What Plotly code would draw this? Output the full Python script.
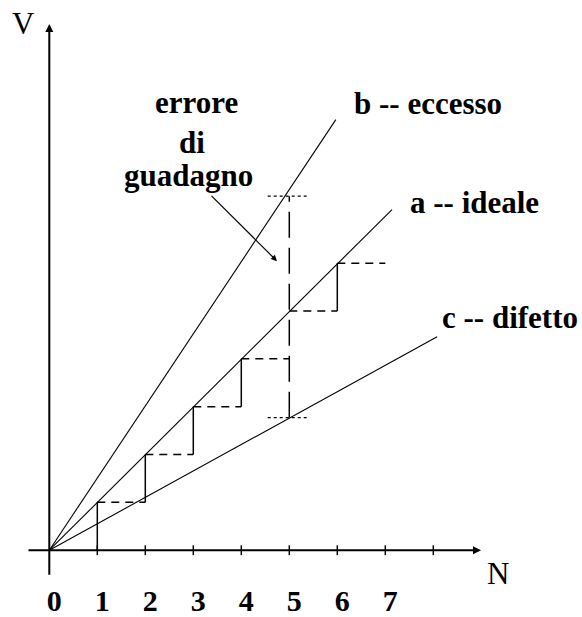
import plotly.graph_objects as go

# ---------------- data ----------------
line_names = ["a -- ideale", "b -- eccesso", "c -- difetto"]
line_end_N = [7.14, 5.97, 8.08]
line_end_V = [7.12, 9.00, 4.46]

step_N = [1, 2, 3, 4, 6]
step_bottom = [0, 1, 2, 3, 5]
step_top = [1, 2, 3, 4, 6]

level_V = [1, 2, 3, 4, 5, 6]
level_start = [1, 2, 3, 4, 5, 6]
level_end = [2, 3, 4, 5, 6, 7]

err_N = 5
err_low = 2.77
err_high = 7.40
err_dot_from = 4.55
err_dot_to = 5.37

tick_N = [1, 2, 3, 4, 5, 6, 7, 8]
tick_labels = ["0", "1", "2", "3", "4", "5", "6", "7"]
tick_vals = [0, 1, 2, 3, 4, 5, 6, 7]

W, H = 582, 617
OX, OY, U = 49.3, 552.0, 48.0


def px(x):
    return (x - OX) / U


def py(y):
    return (OY - y) / U


FONT = "Liberation Serif, Times New Roman, serif"
fig = go.Figure()

# main lines
for ex, ey in zip(line_end_N, line_end_V):
    fig.add_trace(go.Scatter(x=[0, ex], y=[0, ey], mode="lines",
                             line=dict(color="black", width=1.1), hoverinfo="skip"))

# solid staircase verticals
for n, b, t in zip(step_N, step_bottom, step_top):
    fig.add_trace(go.Scatter(x=[n, n], y=[b, t], mode="lines",
                             line=dict(color="black", width=1.5), hoverinfo="skip"))

# dashed staircase horizontals
for v, s, e in zip(level_V, level_start, level_end):
    fig.add_trace(go.Scatter(x=[s, e], y=[v, v], mode="lines",
                             line=dict(color="black", width=1.5, dash="8px,6px"), hoverinfo="skip"))

# gain error long-dash vertical
fig.add_trace(go.Scatter(x=[err_N, err_N], y=[err_low, err_high], mode="lines",
                         line=dict(color="black", width=1.5, dash="26px,10px"), hoverinfo="skip"))
for v in [err_low, err_high]:
    fig.add_trace(go.Scatter(x=[err_dot_from, err_dot_to], y=[v, v], mode="lines",
                             line=dict(color="black", width=1.2, dash="3px,3px"), hoverinfo="skip"))

# tick marks on N axis
fig.add_trace(go.Scatter(x=tick_N, y=[0] * len(tick_N), mode="markers",
                         marker=dict(symbol="line-ns", size=7, line=dict(color="black", width=1.5)),
                         hoverinfo="skip"))

ann = []
# axes with arrows
ann.append(dict(x=px(481), y=0, ax=px(27), ay=0, xref="x", yref="y", axref="x", ayref="y",
                showarrow=True, arrowhead=2, arrowsize=0.8, arrowwidth=2, arrowcolor="black", text=""))
ann.append(dict(x=0, y=py(24), ax=0, ay=py(578), xref="x", yref="y", axref="x", ayref="y",
                showarrow=True, arrowhead=2, arrowsize=0.8, arrowwidth=2, arrowcolor="black", text=""))
# pointer arrow
ann.append(dict(x=px(277), y=py(262), ax=px(210), ay=py(195), xref="x", yref="y", axref="x", ayref="y",
                showarrow=True, arrowhead=2, arrowsize=1, arrowwidth=1.2, arrowcolor="black", text=""))

labels = [
    ("b -- eccesso", 428, 104, True),
    ("a -- ideale", 474, 203, True),
    ("c -- difetto", 510, 319, True),
    ("errore", 196, 103, True),
    ("di", 192, 143, True),
    ("guadagno", 188, 176, True),
    ("V", 23, 24, False),
    ("N", 498, 575, False),
]
for t, x, y, bold in labels:
    ann.append(dict(x=px(x), y=py(y), xref="x", yref="y", text=("<b>%s</b>" % t) if bold else t,
                    showarrow=False, xanchor="center", yanchor="middle",
                    font=dict(family=FONT, size=31, color="black")))

fig.update_layout(
    width=W, height=H, autosize=False,
    margin=dict(l=0, r=0, t=0, b=0),
    paper_bgcolor="white", plot_bgcolor="white",
    showlegend=False,
    annotations=ann,
    xaxis=dict(range=[px(0), px(W)], showgrid=False, zeroline=False, showline=False,
               tickmode="array", tickvals=tick_vals, ticktext=["<b>%s</b>" % s for s in tick_labels],
               ticks="", anchor="free", position=(H - OY) / H,
               ticklabelstandoff=30, ticklabelshift=5,
               tickfont=dict(family=FONT, size=30, color="black"), fixedrange=True),
    yaxis=dict(range=[py(H), py(0)], showgrid=False, zeroline=False, showline=False,
               showticklabels=False, ticks="", domain=[0, 1], fixedrange=True),
)

fig.write_html("out.html", config={"displayModeBar": False},
               post_script="document.body.style.margin='0';document.body.style.overflow='hidden';")
